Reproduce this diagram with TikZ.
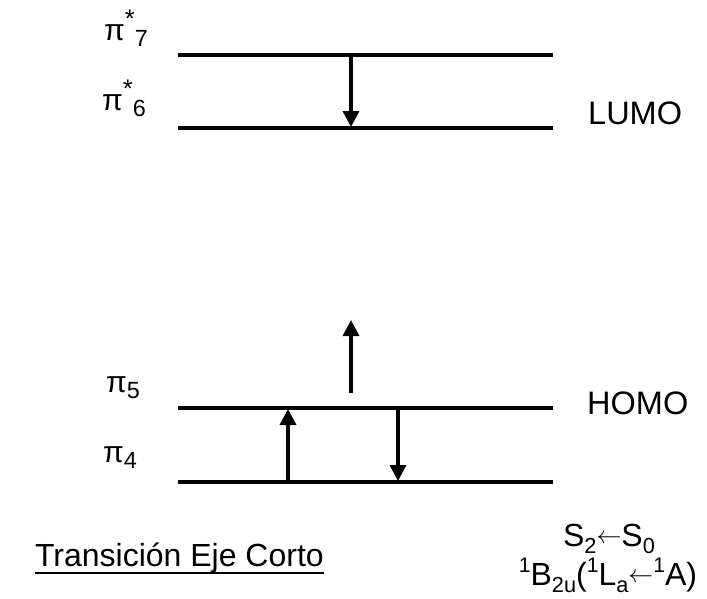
\documentclass[tikz,border=0pt]{standalone}
\usepackage{fontspec}
\setmainfont{Liberation Sans}
\usetikzlibrary{arrows.meta}
\newcommand\mysup[1]{\raisebox{0.42em}{\scalebox{0.85}{#1}}}
\newcommand\mysub[1]{\raisebox{-0.22em}{\scalebox{0.78}{#1}}}
\newcommand\tsup[1]{\raisebox{0.40em}{\scalebox{0.66}{#1}}}
\newcommand\tsub[1]{\raisebox{-0.22em}{\scalebox{0.68}{#1}}}
\newcommand\larr{\raisebox{0.08em}{$\leftarrow$}}
\begin{document}
\begin{tikzpicture}[x=1pt,y=-1pt,
  level/.style={line width=4pt},
  trans/.style={line width=3.4pt,-{Triangle[length=16pt,width=16pt]}},
  orb/.style={font=\fontsize{30}{34}\selectfont, anchor=base west, inner sep=0pt},
  side/.style={font=\fontsize{32.5}{36}\selectfont, anchor=base west, inner sep=0pt},
  term/.style={font=\fontsize{32}{34}\selectfont, anchor=base, inner sep=0pt}]
\useasboundingbox (0,0) rectangle (707,598);
% levels
\coordinate (l7a) at (178,55);  \coordinate (l7b) at (553,55);
\coordinate (l6a) at (178,128); \coordinate (l6b) at (553,128);
\coordinate (l5a) at (178,408); \coordinate (l5b) at (553,408);
\coordinate (l4a) at (178,482); \coordinate (l4b) at (553,482);
\draw[level] (l7a) -- (l7b);
\draw[level] (l6a) -- (l6b);
\draw[level] (l5a) -- (l5b);
\draw[level] (l4a) -- (l4b);
% arrows
\coordinate (d1s) at (351,56);  \coordinate (d1e) at (351,127);
\coordinate (u1s) at (351,393); \coordinate (u1e) at (351,320);
\coordinate (u2s) at (288,481); \coordinate (u2e) at (288,409);
\coordinate (d2s) at (398,409); \coordinate (d2e) at (398,481);
\draw[trans] (d1s) -- (d1e);
\draw[trans] (u1s) -- (u1e);
\draw[trans] (u2s) -- (u2e);
\draw[trans] (d2s) -- (d2e);
% orbital labels
\node[orb] (p7) at (104,40) {π\mysup{*}\mysub{7}};
\node[orb] (p6) at (102,110) {π\mysup{*}\mysub{6}};
\node[orb] (p5) at (106,392) {π\mysub{5}};
\node[orb] (p4) at (103,462) {π\mysub{4}};
% side labels
\node[side] (lumo) at (588,124) {LUMO};
\node[side] (homo) at (587,414) {HOMO};
% title
\node[font=\fontsize{32}{36}\selectfont, anchor=base east, inner sep=0pt] (tit) at (324,566) {Transición Eje Corto};
\draw[line width=2.4pt] ([yshift=-7pt]tit.base west) -- ([yshift=-7pt]tit.base east);
% terms
\node[term] (t1) at (609,546) {S\tsub{2}\larr S\tsub{0}};
\node[term] (t2) at (608,585) {\tsup{1}B\tsub{2u}(\tsup{1}L\tsub{a}\larr\tsup{1}A)};
\end{tikzpicture}
\end{document}
